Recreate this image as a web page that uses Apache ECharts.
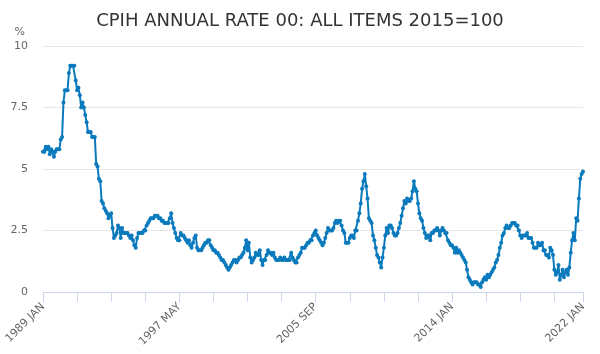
<!DOCTYPE html>
<html>
<head>
<meta charset="utf-8">
<script src="https://cdn.jsdelivr.net/npm/echarts@6/dist/echarts.min.js"></script>
<style>
  html, body { margin: 0; padding: 0; background: #fff; }
  #chart { width: 600px; height: 354px; }
</style>
</head>
<body>
<div id="chart"></div>
<script>
// months of each year and first year
var monthNames = ["JAN", "FEB", "MAR", "APR", "MAY", "JUN", "JUL", "AUG", "SEP", "OCT", "NOV", "DEC"];
var firstYear = 1989;

// CPIH annual rate, % (one row per year, Jan..Dec)
var rate1989 = [5.7, 5.7, 5.9, 5.8, 5.9, 5.6, 5.8, 5.7, 5.5, 5.7, 5.8, 5.8];
var rate1990 = [5.8, 6.2, 6.3, 7.7, 8.2, 8.2, 8.2, 8.9, 9.2, 9.2, 9.2, 9.2];
var rate1991 = [8.6, 8.2, 8.3, 8.0, 7.5, 7.7, 7.5, 7.2, 6.9, 6.5, 6.5, 6.5];
var rate1992 = [6.3, 6.3, 6.3, 5.2, 5.1, 4.6, 4.5, 3.7, 3.6, 3.4, 3.3, 3.2];
var rate1993 = [3.0, 3.1, 3.2, 2.6, 2.2, 2.3, 2.4, 2.7, 2.6, 2.2, 2.6, 2.4];
var rate1994 = [2.4, 2.4, 2.4, 2.3, 2.2, 2.3, 2.1, 1.9, 1.8, 2.2, 2.4, 2.4];
var rate1995 = [2.4, 2.4, 2.5, 2.5, 2.7, 2.8, 2.9, 3.0, 3.0, 3.0, 3.1, 3.1];
var rate1996 = [3.1, 3.0, 3.0, 2.9, 2.9, 2.8, 2.8, 2.8, 2.8, 3.0, 3.2, 2.8];
var rate1997 = [2.6, 2.4, 2.2, 2.1, 2.1, 2.4, 2.3, 2.3, 2.2, 2.1, 2.0, 2.1];
var rate1998 = [1.9, 1.8, 2.0, 2.2, 2.3, 1.8, 1.7, 1.7, 1.7, 1.8, 1.9, 2.0];
var rate1999 = [2.0, 2.1, 2.1, 1.9, 1.8, 1.7, 1.7, 1.6, 1.6, 1.5, 1.4, 1.3];
var rate2000 = [1.3, 1.2, 1.1, 1.0, 0.9, 1.0, 1.1, 1.2, 1.3, 1.3, 1.2, 1.3];
var rate2001 = [1.4, 1.4, 1.5, 1.6, 1.8, 2.1, 1.7, 2.0, 1.4, 1.2, 1.3, 1.4];
var rate2002 = [1.6, 1.5, 1.5, 1.7, 1.3, 1.1, 1.3, 1.3, 1.5, 1.7, 1.6, 1.6];
var rate2003 = [1.5, 1.6, 1.4, 1.3, 1.3, 1.3, 1.4, 1.3, 1.3, 1.4, 1.3, 1.3];
var rate2004 = [1.3, 1.3, 1.6, 1.4, 1.3, 1.2, 1.2, 1.4, 1.5, 1.6, 1.8, 1.8];
var rate2005 = [1.8, 1.9, 2.0, 2.0, 2.1, 2.1, 2.3, 2.4, 2.5, 2.3, 2.2, 2.1];
var rate2006 = [2.0, 1.9, 2.0, 2.2, 2.4, 2.6, 2.5, 2.5, 2.5, 2.6, 2.8, 2.9];
var rate2007 = [2.8, 2.9, 2.9, 2.7, 2.5, 2.4, 2.0, 2.0, 2.0, 2.2, 2.3, 2.3];
var rate2008 = [2.2, 2.5, 2.5, 2.9, 3.2, 3.6, 4.2, 4.5, 4.8, 4.3, 3.8, 3.0];
var rate2009 = [2.9, 2.8, 2.3, 2.1, 1.8, 1.5, 1.4, 1.2, 1.0, 1.4, 1.8, 2.3];
var rate2010 = [2.6, 2.4, 2.7, 2.7, 2.6, 2.4, 2.3, 2.3, 2.4, 2.6, 2.8, 3.1];
var rate2011 = [3.4, 3.7, 3.6, 3.8, 3.7, 3.7, 3.8, 4.1, 4.5, 4.2, 4.1, 3.6];
var rate2012 = [3.2, 3.0, 2.9, 2.6, 2.4, 2.2, 2.3, 2.3, 2.1, 2.4, 2.4, 2.5];
var rate2013 = [2.5, 2.6, 2.5, 2.3, 2.5, 2.6, 2.5, 2.4, 2.4, 2.1, 2.0, 1.9];
var rate2014 = [1.9, 1.8, 1.6, 1.8, 1.6, 1.7, 1.6, 1.5, 1.4, 1.3, 1.2, 0.9];
var rate2015 = [0.6, 0.5, 0.4, 0.3, 0.4, 0.4, 0.4, 0.3, 0.3, 0.2, 0.4, 0.5];
var rate2016 = [0.6, 0.5, 0.7, 0.6, 0.7, 0.8, 0.9, 1.0, 1.2, 1.3, 1.5, 1.8];
var rate2017 = [2.0, 2.3, 2.4, 2.6, 2.7, 2.6, 2.6, 2.7, 2.8, 2.8, 2.8, 2.7];
var rate2018 = [2.7, 2.5, 2.3, 2.2, 2.3, 2.3, 2.3, 2.4, 2.2, 2.2, 2.2, 2.0];
var rate2019 = [1.8, 1.8, 1.8, 2.0, 1.9, 1.9, 2.0, 1.7, 1.7, 1.5, 1.5, 1.4];
var rate2020 = [1.8, 1.7, 1.5, 0.9, 0.7, 0.8, 1.1, 0.5, 0.7, 0.9, 0.6, 0.8];
var rate2021 = [0.9, 0.7, 1.0, 1.6, 2.1, 2.4, 2.1, 3.0, 2.9, 3.8, 4.6, 4.8];
var rate2022 = [4.9];

var yTicks = [0, 2.5, 5, 7.5, 10];

var yearly = [rate1989, rate1990, rate1991, rate1992, rate1993, rate1994, rate1995,
  rate1996, rate1997, rate1998, rate1999, rate2000, rate2001, rate2002, rate2003,
  rate2004, rate2005, rate2006, rate2007, rate2008, rate2009, rate2010, rate2011,
  rate2012, rate2013, rate2014, rate2015, rate2016, rate2017, rate2018, rate2019,
  rate2020, rate2021, rate2022];

var categories = [];
var values = [];
for (var y = 0; y < yearly.length; y++) {
  for (var m = 0; m < yearly[y].length; m++) {
    categories.push((firstYear + y) + " " + monthNames[m]);
    values.push(yearly[y][m]);
  }
}
var lastIdx = categories.length - 1;

var myChart = echarts.init(document.getElementById("chart"));
var option = {
  animation: false,
  title: {
    text: "CPIH ANNUAL RATE 00: ALL ITEMS 2015=100",
    left: "center",
    top: 7,
    textStyle: { fontFamily: "DejaVu Sans", fontSize: 18, fontWeight: "normal", color: "#333" }
  },
  grid: { left: 43, right: 17, top: 46, bottom: 62 },
  xAxis: {
    type: "category",
    data: categories,
    boundaryGap: false,
    axisLine: { lineStyle: { color: "#ccd6eb" } },
    axisTick: {
      length: 10,
      lineStyle: { color: "#ccd6eb" },
      interval: function (i) { return i % 25 === 0 || i === lastIdx; }
    },
    axisLabel: {
      rotate: 45,
      margin: 13,
      fontFamily: "DejaVu Sans",
      fontSize: 11,
      color: "#666",
      interval: function (i) { return i % 100 === 0 || i === lastIdx; }
    },
    splitLine: { show: false }
  },
  yAxis: {
    type: "value",
    min: 0,
    max: 10,
    interval: 2.5,
    name: "%",
    nameLocation: "end",
    nameGap: 8,
    nameTextStyle: { fontFamily: "DejaVu Sans", fontSize: 11, color: "#666", align: "right", padding: [0, 18, 0, 0] },
    axisLine: { show: false },
    axisTick: { show: false },
    axisLabel: {
      margin: 15,
      fontFamily: "DejaVu Sans",
      fontSize: 11,
      color: "#666",
      formatter: function (v) { return yTicks.indexOf(v) >= 0 ? String(v) : ""; }
    },
    splitLine: { lineStyle: { color: "#e6e6e6" } }
  },
  series: [{
    type: "line",
    data: values,
    color: "#0a7abd",
    lineStyle: { width: 2 },
    symbol: "circle",
    symbolSize: 4,
    showAllSymbol: true
  }]
};
myChart.setOption(option);
</script>
</body>
</html>
